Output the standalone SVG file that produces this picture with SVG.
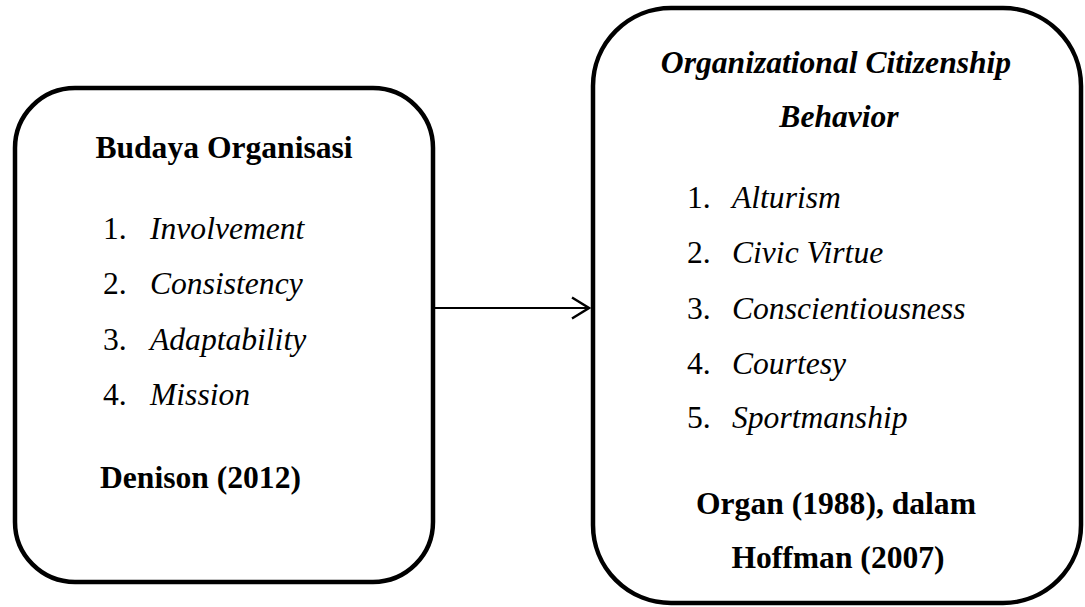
<svg xmlns="http://www.w3.org/2000/svg" width="1085" height="607" viewBox="0 0 1085 607">
<style>
.box{fill:#fff;stroke:#000;stroke-width:4.5}
text{font-family:"Liberation Serif","Times New Roman",serif;font-size:31.6px;fill:#000}
.b{font-weight:bold}
.i{font-style:italic}
.bi{font-weight:bold;font-style:italic}
.c{text-anchor:middle}
.conn{stroke:#000;stroke-width:2.2;fill:none}
</style>
<defs>
<marker id="arr" viewBox="0 0 20 24" refX="18" refY="12" markerWidth="20" markerHeight="24" markerUnits="userSpaceOnUse" orient="auto">
<path d="M1,1.5 L18,12 L1,22.5" fill="none" stroke="#000" stroke-width="2.4"/>
</marker>
</defs>
<rect width="1085" height="607" fill="#fff"/>
<g id="budaya">
<rect class="box" x="15" y="88" width="418" height="494" rx="60" ry="60"/>
<text class="b c" x="224" y="158">Budaya Organisasi</text>
<text x="103" y="239">1.</text><text class="i" x="150" y="239">Involvement</text>
<text x="103" y="294">2.</text><text class="i" x="150" y="294">Consistency</text>
<text x="103" y="350">3.</text><text class="i" x="150" y="350">Adaptability</text>
<text x="103" y="405">4.</text><text class="i" x="150" y="405">Mission</text>
<text class="b" x="100" y="488">Denison (2012)</text>
</g>
<g id="ocb">
<rect class="box" x="593" y="8" width="488" height="595" rx="78" ry="78"/>
<text class="bi c" x="836" y="73">Organizational Citizenship</text>
<text class="bi c" x="839" y="127">Behavior</text>
<text x="687" y="208">1.</text><text class="i" x="732" y="208">Alturism</text>
<text x="687" y="263">2.</text><text class="i" x="732" y="263">Civic Virtue</text>
<text x="687" y="319">3.</text><text class="i" x="732" y="319">Conscientiousness</text>
<text x="687" y="374">4.</text><text class="i" x="732" y="374">Courtesy</text>
<text x="687" y="428">5.</text><text class="i" x="732" y="428">Sportmanship</text>
<text class="b c" x="836" y="514">Organ (1988), dalam</text>
<text class="b c" x="838" y="568">Hoffman (2007)</text>
</g>
<g id="connectors">
<line class="conn" x1="435" y1="308" x2="589" y2="308" marker-end="url(#arr)"/>
</g>
</svg>
